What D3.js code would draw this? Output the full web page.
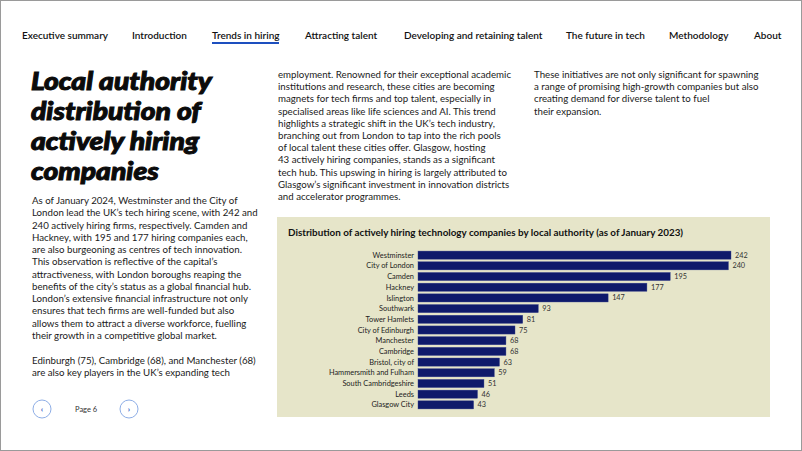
<!DOCTYPE html>
<html><head><meta charset="utf-8">
<script src="https://cdn.jsdelivr.net/npm/d3@7"></script>
<style>
html,body{margin:0;padding:0;background:#fff;}
svg{display:block;}
text{font-family:Lato,"Noto Sans",sans-serif;}
</style></head>
<body>
<svg id="c" width="802" height="451"></svg>
<script>
const categories = ["Westminster","City of London","Camden","Hackney","Islington","Southwark","Tower Hamlets","City of Edinburgh","Manchester","Cambridge","Bristol, city of","Hammersmith and Fulham","South Cambridgeshire","Leeds","Glasgow City"];
const values = [242,240,195,177,147,93,81,75,68,68,63,59,51,46,43];
const chartTitle = "Distribution of actively hiring technology companies by local authority (as of January 2023)";
const navItems = ["Executive summary","Introduction","Trends in hiring","Attracting talent","Developing and retaining talent","The future in tech","Methodology","About"];
const navX = [22,132,212,305,404,566,669,754];
const pageTitle = ["Local authority","distribution of","actively hiring","companies"];
const col1 = ["As of January 2024, Westminster and the City of","London lead the UK\u2019s tech hiring scene, with 242 and","240 actively hiring firms, respectively. Camden and","Hackney, with 195 and 177 hiring companies each,","are also burgeoning as centres of tech innovation.","This observation is reflective of the capital\u2019s","attractiveness, with London boroughs reaping the","benefits of the city\u2019s status as a global financial hub.","London\u2019s extensive financial infrastructure not only","ensures that tech firms are well-funded but also","allows them to attract a diverse workforce, fuelling","their growth in a competitive global market."];
const col1b = ["Edinburgh (75), Cambridge (68), and Manchester (68)","are also key players in the UK\u2019s expanding tech"];
const col2 = ["employment. Renowned for their exceptional academic","institutions and research, these cities are becoming","magnets for tech firms and top talent, especially in","specialised areas like life sciences and AI. This trend","highlights a strategic shift in the UK\u2019s tech industry,","branching out from London to tap into the rich pools","of local talent these cities offer. Glasgow, hosting","43 actively hiring companies, stands as a significant","tech hub. This upswing in hiring is largely attributed to","Glasgow\u2019s significant investment in innovation districts","and accelerator programmes."];
const col3 = ["These initiatives are not only significant for spawning","a range of promising high-growth companies but also","creating demand for diverse talent to fuel","their expansion."];
const pageLabel = "Page 6";

const svg = d3.select("#c");
svg.append("rect").attr("x",0.5).attr("y",0.5).attr("width",801).attr("height",450)
  .attr("fill","#fff").attr("stroke","#9a9a9a");

// nav
const nav = svg.append("g");
nav.selectAll("text").data(navItems).join("text")
  .attr("x",(d,i)=>navX[i]).attr("y",39)
  .attr("font-size",10).attr("font-weight",600).attr("fill","#111").text(d=>d);
nav.append("rect").attr("x",212).attr("y",42).attr("width",67).attr("height",2).attr("fill","#1d4fbf");

// title: slightly horizontally stretched to match the wide heavy face
const tg = svg.append("g").attr("transform","translate(31,0) scale(1.13,1)");
tg.selectAll("text").data(pageTitle).join("text")
  .attr("x",0).attr("y",(d,i)=>90+i*30)
  .attr("font-size",25).attr("font-weight",900).attr("font-style","italic")
  .attr("fill","#0b0b0b").attr("stroke","#0b0b0b").attr("stroke-width",1.0)
  .text(d=>d);

function para(lines,x,y0,lh){
  svg.append("g").selectAll("text").data(lines).join("text")
    .attr("x",x).attr("y",(d,i)=>y0+i*lh)
    .attr("font-size",9.7).attr("fill","#1a1a1a").text(d=>d);
}
para(col1,32,204,12.27);
para(col1b,32,364,12.27);
para(col2,278,78,12.2);
para(col3,534,78,12.2);

// page nav
[42,129].forEach((cx,i)=>{
  svg.append("circle").attr("cx",cx).attr("cy",409).attr("r",9)
    .attr("fill","#fff").attr("stroke","#8eaee6").attr("stroke-width",1);
  svg.append("text").attr("x",cx).attr("y",411.5).attr("text-anchor","middle")
    .attr("font-size",8).attr("font-weight",700).attr("fill","#1d4fbf").text(i===0?"\u2039":"\u203A");
});
svg.append("text").attr("x",75).attr("y",412).attr("font-size",7.5).attr("fill","#333").text(pageLabel);

// chart panel
svg.append("rect").attr("x",277).attr("y",217).attr("width",493).attr("height",200).attr("fill","#e6e5c9");
svg.append("text").attr("x",288).attr("y",236).attr("font-size",9.85).attr("font-weight",700)
  .attr("fill","#111").text(chartTitle);

const x = d3.scaleLinear().domain([0,242]).range([418,731]);
const y = d3.scaleBand().domain(categories).range([250,410]).paddingInner(0.24).paddingOuter(0.1);

const g = svg.append("g");
g.selectAll("rect.bar").data(values).join("rect").attr("class","bar")
  .attr("x",x(0)).attr("y",(d,i)=>y(categories[i]))
  .attr("width",d=>x(d)-x(0)).attr("height",y.bandwidth())
  .attr("fill","#0f1a6b").attr("stroke","#3a4590").attr("stroke-width",0.4);
g.selectAll("text.val").data(values).join("text").attr("class","val")
  .attr("x",d=>x(d)+4).attr("y",(d,i)=>y(categories[i])+y.bandwidth()/2)
  .attr("dy","0.35em").attr("font-size",7.3).attr("fill","#333").text(d=>d);
g.selectAll("text.cat").data(categories).join("text").attr("class","cat")
  .attr("x",414).attr("y",d=>y(d)+y.bandwidth()/2).attr("dy","0.35em")
  .attr("text-anchor","end").attr("font-size",7.4).attr("fill","#222").text(d=>d);
</script>
</body></html>
